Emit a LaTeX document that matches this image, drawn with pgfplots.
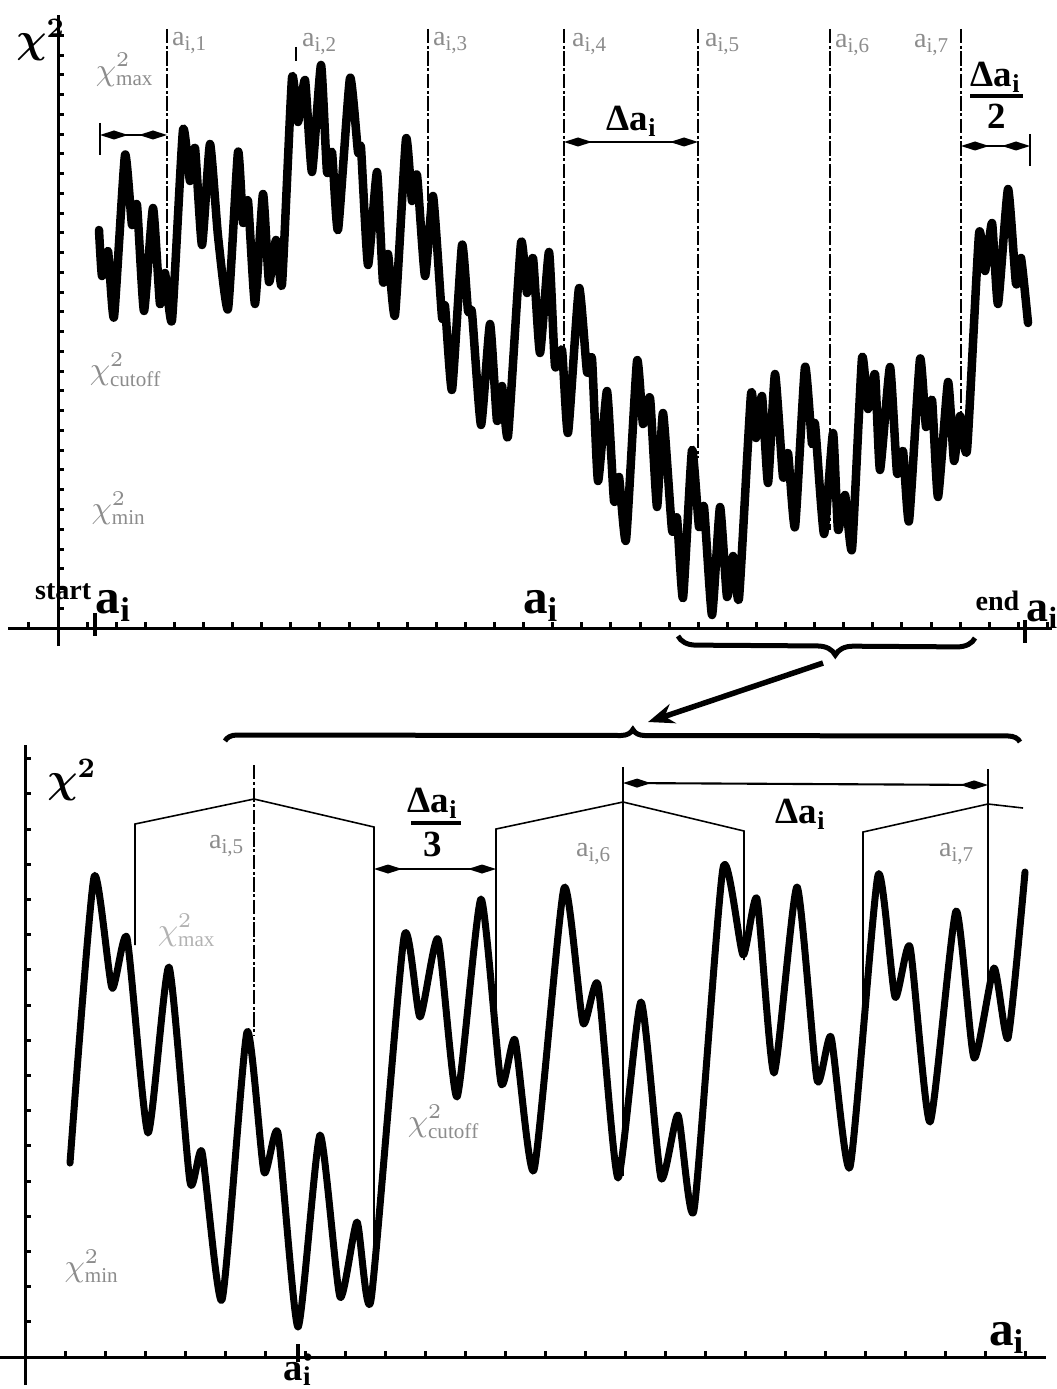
\documentclass[border=0pt]{standalone}
\usepackage{pgfplots}
\pgfplotsset{compat=1.18}
\usepackage{pgfplotstable}
\usepackage{fontspec}
\usepackage{bm}
\setmainfont{Liberation Serif}
\usetikzlibrary{arrows.meta,decorations.pathreplacing}

% curves, in picture pixels (px from left, py from top)
\pgfplotstableread{
px py
99 230
102 276
108 251
114 317
125 155
132 225
137 205
144 311
153 208
160 304
165 273
172 320
183 130
190 181
195 148
202 245
210 144
218 236
228 309
238 152
243 223
248 201
255 304
263 194
269 282
276 240
282 284
292 78
298 122
305 80
312 172
321 65
327 172
332 152
338 230
350 78
358 152
361 148
368 265
377 172
383 282
388 254
395 315
406 139
412 201
417 175
425 276
433 196
442 317
445 306
452 390
462 245
468 311
472 313
481 425
490 324
497 421
502 386
508 436
521 243
527 293
533 258
540 353
549 252
555 366
562 350
568 433
579 288
587 372
592 359
598 481
607 391
614 501
619 477
626 540
637 361
643 424
650 398
657 507
663 413
672 530
677 518
683 598
692 450
699 527
704 507
712 615
720 507
727 597
733 556
739 598
751 394
756 438
762 396
768 483
775 374
783 477
788 453
795 527
805 367
812 444
815 424
824 534
833 433
838 530
845 495
852 549
862 358
868 409
875 374
880 470
890 367
897 473
903 451
909 521
920 359
926 427
932 400
938 497
948 382
954 461
960 416
967 450
979 234
985 271
992 223
998 304
1008 189
1016 284
1021 258
1028 323
}\topcurve

\pgfplotstableread{
px py
70 1163
94 877
112 988
127 938
148 1133
169 967
190 1182
202 1152
222 1300
247 1032
264 1172
278 1133
298 1327
320 1135
340 1297
357 1222
371 1300
404 937
420 1017
438 939
457 1097
481 899
501 1083
515 1040
534 1170
564 888
583 1023
598 985
618 1178
641 1002
661 1178
678 1115
694 1210
723 868
743 955
757 899
774 1073
797 887
817 1080
831 1037
850 1167
878 875
895 997
910 947
930 1122
956 911
974 1058
994 968
1008 1038
1025 872
}\botcurve

\tikzset{
  guide/.style={line width=0.35pt, dash pattern=on 4pt off 0.8pt on 0.8pt off 0.8pt},
  thin guide/.style={line width=0.45pt},
  faint/.style={text=black!45, font=\fontsize{8}{9}\selectfont},
  spindle/.style={line width=0.6pt,
    {Kite[length=2.8mm,width=0.9mm,inset=1.4mm]}-{Kite[length=2.8mm,width=0.9mm,inset=1.4mm]}},
  big/.style={font=\bfseries\fontsize{14}{16}\selectfont, inner sep=0pt},
  delta/.style={font=\bfseries\fontsize{10.5}{12}\selectfont},
}

\begin{document}
\begin{tikzpicture}
\path[use as bounding box] (0,0) rectangle (105.7mm,-138.9mm);

% ---------- top panel: axis box from px 8..1052, py 646..15 ----------
\begin{axis}[
  at={(0.8mm,-64.6mm)}, anchor=south west,
  x=0.1mm, y=0.1mm,
  xmin=-50, xmax=994, ymin=-18, ymax=613,
  axis lines=middle, enlargelimits=false, clip=false,
  axis line style={-, line width=0.3mm},
  xtick={-29.1,29.1,58.2,...,990}, ytick={19.75,39.5,...,600},
  xticklabels={}, yticklabels={},
  tick align=inside, major tick length=0.6mm,
  tick style={line width=0.3mm, black},
]
\addplot[line width=0.85mm, smooth, tension=0.3, line join=round, line cap=round]
  table[x expr=\thisrow{px}-58, y expr=628-\thisrow{py}] {\topcurve};
\end{axis}

% ---------- bottom panel: axis box from px 0..1046, py 1385..745 ----------
\begin{axis}[
  at={(0mm,-138.5mm)}, anchor=south west,
  x=0.1mm, y=0.1mm,
  xmin=-25, xmax=1021, ymin=-28, ymax=612,
  axis lines=middle, enlargelimits=false, clip=false,
  axis line style={-, line width=0.3mm},
  xtick={40,80,...,1000}, ytick={35.2,70.4,...,600},
  xticklabels={}, yticklabels={},
  tick align=inside, major tick length=0.6mm,
  tick style={line width=0.3mm, black},
]
\addplot[line width=0.7mm, smooth, tension=0.35, line join=round, line cap=round]
  table[x expr=\thisrow{px}-25, y expr=1357-\thisrow{py}] {\botcurve};
\end{axis}

\begin{scope}[x=0.1mm,y=-0.1mm]
% ---------- top annotations ----------
\foreach \xx/\yy in {167/268, 428/272, 564/350, 698/458, 830/530, 961/416}
  \draw[guide] (\xx,29) -- (\xx,\yy);
\draw[guide] (296,47) -- (296,63);

\draw[line width=0.6pt] (100,123) -- (100,155);
\draw[spindle] (100,135) -- (167,135);
\draw[spindle] (564,142) -- (698,142);
\draw[line width=0.6pt] (1030,134) -- (1030,166);
\draw[spindle] (961,146) -- (1030,146);

\node[delta] at (632,121) {Δa\textsubscript{i}};
\node[delta] at (996,77) {Δa\textsubscript{i}};
\draw[line width=0.9pt] (970,96) -- (1023,96);
\node[delta] at (997,116) {2};

\node[font=\large] at (41,40) {$\bm{\chi}^{\bm{2}}$};
\node[faint] at (190,43) {a\textsubscript{i,1}};
\node[faint] at (320,44) {a\textsubscript{i,2}};
\node[faint] at (451,43) {a\textsubscript{i,3}};
\node[faint] at (590,44) {a\textsubscript{i,4}};
\node[faint] at (723,44) {a\textsubscript{i,5}};
\node[faint] at (853,45) {a\textsubscript{i,6}};
\node[faint] at (932,45) {a\textsubscript{i,7}};
\node[faint, font=\fontsize{9}{10}\selectfont] at (125,70) {$\chi^2_{\mathrm{max}}$};
\node[faint, font=\fontsize{9}{10}\selectfont] at (126,370) {$\chi^2_{\mathrm{cutoff}}$};
\node[faint, font=\fontsize{9}{10}\selectfont] at (119,508) {$\chi^2_{\mathrm{min}}$};

\draw[line width=0.4mm] (95,613) -- (95,636);
\draw[line width=0.4mm] (1025,620) -- (1025,643);
\node[font=\bfseries\fontsize{8}{9}\selectfont, inner sep=0pt, anchor=east] at (92,592) {start};
\node[big, anchor=west] at (95,606) {a\textsubscript{i}};
\node[big] at (541,606) {a\textsubscript{i}};
\node[font=\bfseries\fontsize{8}{9}\selectfont, inner sep=0pt, anchor=east] at (1020,601) {end};
\node[big, font=\bfseries\fontsize{12.5}{14}\selectfont, anchor=west] at (1026,615) {a\textsubscript{i}};

% ---------- link between panels ----------
\draw[line width=0.5mm, decorate, decoration={brace, mirror, amplitude=1.8mm, aspect=0.53}]
  (678,636) -- (975,638);
\draw[line width=0.55mm, -{Stealth[length=2.6mm,width=2mm]}] (823,663) -- (648,722);
\draw[line width=0.5mm, decorate, decoration={brace, amplitude=1.2mm, aspect=0.513}]
  (225,741) -- (1020,742);

% ---------- bottom annotations ----------
\draw[thin guide] (135,945) -- (135,824) -- (254,799) -- (374,827) -- (374,1295);
\draw[guide] (254,765) -- (254,1035);
\draw[thin guide] (496,1045) -- (496,829) -- (623,802) -- (744,831) -- (744,960);
\draw[thin guide] (623,767) -- (623,1176);
\draw[thin guide] (863,1040) -- (863,832) -- (988,804) -- (1023,808);
\draw[thin guide] (988,769) -- (988,990);

\draw[spindle] (374,869) -- (496,869);
\node[delta] at (433,803) {Δa\textsubscript{i}};
\draw[line width=0.9pt] (411,823) -- (461,823);
\node[delta] at (433,844) {3};
\draw[spindle] (623,783) -- (988,785);
\node[delta] at (801,814) {Δa\textsubscript{i}};

\node[font=\large] at (72,780) {$\bm{\chi}^{\bm{2}}$};
\node[faint] at (227,846) {a\textsubscript{i,5}};
\node[faint] at (594,854) {a\textsubscript{i,6}};
\node[faint] at (957,854) {a\textsubscript{i,7}};
\node[faint, text=black!30, font=\fontsize{9}{10}\selectfont] at (187,930) {$\chi^2_{\mathrm{max}}$};
\node[faint, font=\fontsize{9}{10}\selectfont] at (444,1122) {$\chi^2_{\mathrm{cutoff}}$};
\node[faint, font=\fontsize{9}{10}\selectfont] at (92,1266) {$\chi^2_{\mathrm{min}}$};

\draw[line width=0.4mm] (297.5,1344) -- (297.5,1362);
\node[font=\bfseries\fontsize{11}{13}\selectfont, inner sep=0pt, anchor=base] at (298,1380) {a\rlap{\textsuperscript{•}}\textsubscript{i}};
\node[big] at (1007,1338) {a\textsubscript{i}};
\end{scope}
\end{tikzpicture}
\end{document}
